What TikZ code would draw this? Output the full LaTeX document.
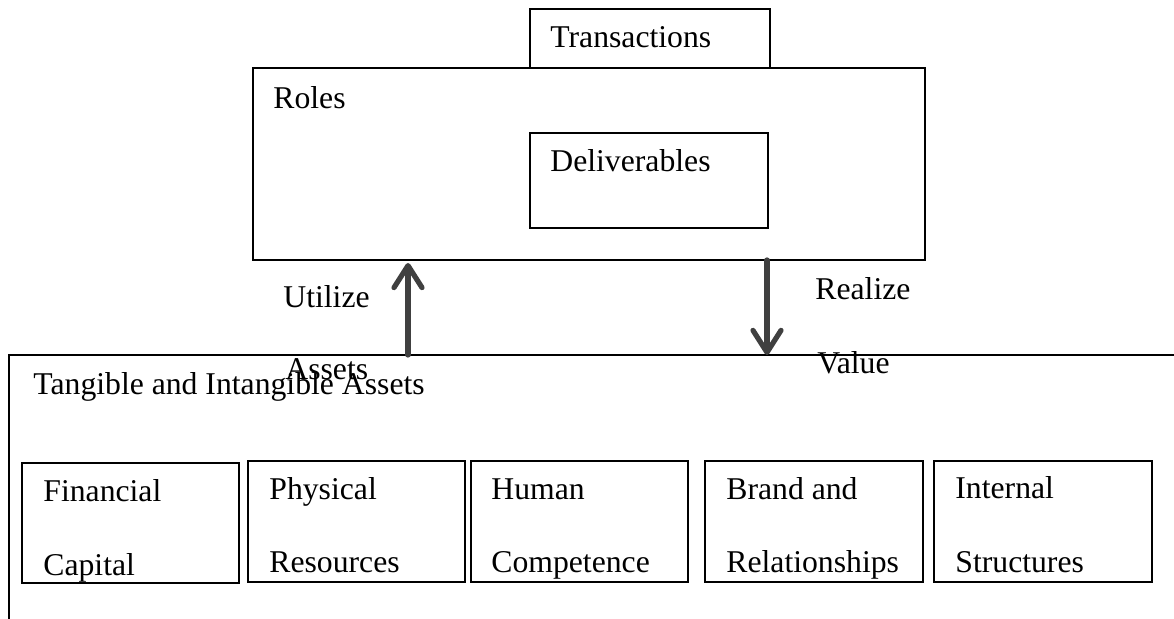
\documentclass[tikz,border=0pt]{standalone}
\usepackage{fontspec}
\setmainfont{Liberation Serif}
\usetikzlibrary{arrows.meta}
\definecolor{arrowgray}{HTML}{404040}
\begin{document}
\begin{tikzpicture}[x=0.5pt, y=-0.5pt,
  box/.style={draw, rectangle, line width=1pt, inner sep=0pt, outer sep=0pt, anchor=north west},
  lbl/.style={anchor=base west, inner sep=0pt, font=\fontsize{15.85pt}{19pt}\selectfont},
  flow/.style={draw=arrowgray, line width=2.6pt, line cap=round,
    -{Straight Barb[length=11pt, width=14pt, line cap=round, line join=round]}}]
  \useasboundingbox (0,0) rectangle (1174,619);
  \clip (0,0) rectangle (1174,619);

  % upper part: roles with transactions and deliverables
  \node[box, minimum width=120pt, minimum height=29.5pt] (trans) at (530,9) {};
  \node[box, minimum width=336pt, minimum height=96pt] (roles) at (253,68) {};
  \node[box, minimum width=119pt, minimum height=47.5pt] (deliv) at (530,133) {};
  \node[lbl] (ttrans) at (550,48) {Transactions};
  \node[lbl] (troles) at (273,109) {Roles};
  \node[lbl] (tdeliv) at (550,172) {Deliverables};

  % asset container (runs off the right and bottom)
  \node[box, minimum width=640pt, minimum height=200pt] (assets) at (9,355) {};
  \node[lbl] (tassets) at (33,395) {Tangible and Intangible Assets};

  % asset categories
  \node[box, minimum width=108.5pt, minimum height=60pt] (fin) at (22,463) {};
  \node[box, minimum width=108.5pt, minimum height=60.5pt] (phys) at (248,461) {};
  \node[box, minimum width=108.5pt, minimum height=60.5pt] (hum) at (471,461) {};
  \node[box, minimum width=109pt, minimum height=60.5pt] (brand) at (705,461) {};
  \node[box, minimum width=109pt, minimum height=60.5pt] (intl) at (934,461) {};

  \node[lbl] (fin1) at (43,502) {Financial};
  \node[lbl] (fin2) at (43,576) {Capital};
  \node[lbl] (phys1) at (269,500) {Physical};
  \node[lbl] (phys2) at (269,573) {Resources};
  \node[lbl] (hum1) at (491,500) {Human};
  \node[lbl] (hum2) at (491,573) {Competence};
  \node[lbl] (brand1) at (726,500) {Brand and};
  \node[lbl] (brand2) at (726,573) {Relationships};
  \node[lbl] (intl1) at (955,499) {Internal};
  \node[lbl] (intl2) at (955,573) {Structures};

  % flows between assets and roles
  \coordinate (utilx) at (408,0);
  \coordinate (realx) at (767,0);
  \draw[flow] (assets.north -| utilx) -- ([yshift=-1.5pt]roles.south -| utilx);
  \draw[flow] (roles.south -| realx) -- (assets.north -| realx);
  \node[lbl] (tutil1) at (283,308) {Utilize};
  \node[lbl] (tutil2) at (285,380) {Assets};
  \node[lbl] (treal1) at (815,300) {Realize};
  \node[lbl] (treal2) at (817,374) {Value};
\end{tikzpicture}
\end{document}
